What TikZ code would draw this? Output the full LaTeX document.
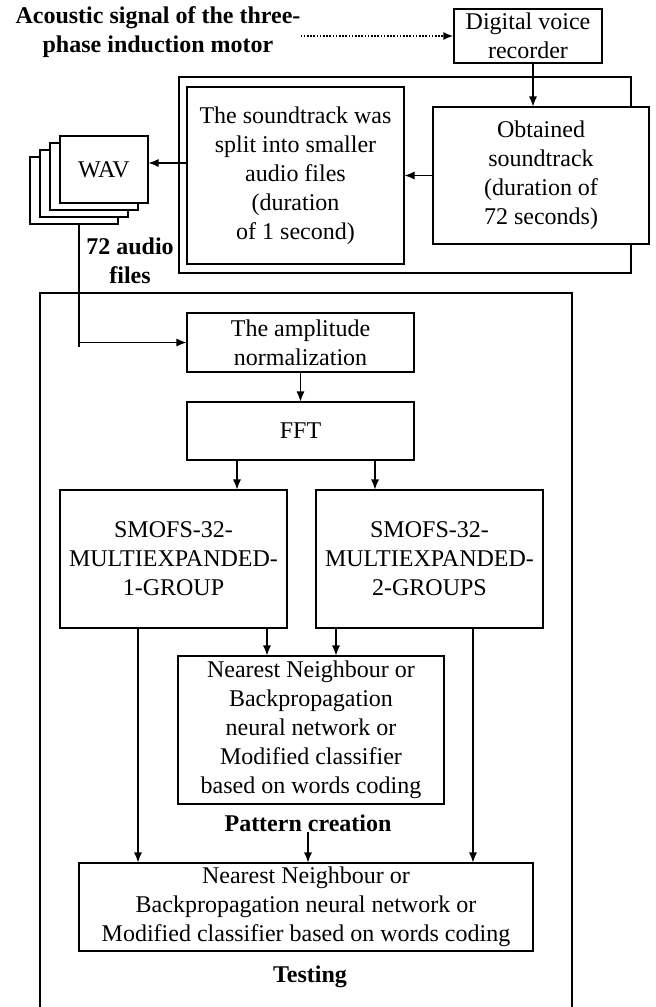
\documentclass[tikz,border=0pt]{standalone}
\usepackage{fontspec}
\setmainfont{Liberation Serif}
\usetikzlibrary{arrows.meta}
\tikzset{
  blk/.style={draw, fill=white, line width=1.1pt, inner sep=0pt, align=center, font=\fontsize{24}{29}\selectfont},
  lbl/.style={inner sep=0pt, align=center, font=\fontsize{24}{29}\selectfont\bfseries},
  wire/.style={line width=1.1pt},
}
\newcommand{\blockbox}[6]{\node[blk, minimum width=#4pt, minimum height=#5pt] (#1) at ( #2 , #3 ) {#6};}

\begin{document}
\begin{tikzpicture}[x=1pt, y=-1pt, >={Latex[length=10pt,width=8pt]}]
\useasboundingbox (0,0) rectangle (656,1007);
% recording
\node[lbl] (src) at (158,32) {Acoustic signal of the three-\\phase induction motor};
\blockbox{dvr}{528}{36}{148}{54}{Digital voice\\recorder}
\draw[line width=2pt, dash pattern=on 1.6pt off 1.6pt, ->] (src.east |- dvr.west) -- (dvr.west);
% splitting frame
\draw[wire] (179,77) rectangle (631,273);
\blockbox{split}{295.5}{175.5}{217}{177}{The soundtrack was\\split into smaller\\audio files\\(duration\\of 1 second)}
\blockbox{obt}{541}{175.5}{216}{137}{Obtained\\soundtrack\\(duration of\\72 seconds)}
% stack of wav files
\foreach \i in {3,2,1}
  \draw[wire, fill=white] ({60-10*\i},{136+7*\i}) rectangle ++(88,67);
\blockbox{wav}{104}{169.5}{88}{67}{WAV}
\node[lbl] (count) at (130,261) {72 audio\\files};
\coordinate (foot) at (79,224);
% processing frame
\draw[wire] (40,1007) |- (572,293) -- (572,1007);
\blockbox{amp}{300.5}{342.5}{227}{59}{The amplitude\\normalization}
\blockbox{fft}{300.5}{431}{227}{58}{FFT}
\blockbox{sa}{173.5}{559}{227}{138}{SMOFS-32-\\MULTIEXPANDED-\\1-GROUP}
\blockbox{sb}{429.5}{559}{227}{138}{SMOFS-32-\\MULTIEXPANDED-\\2-GROUPS}
\blockbox{nn}{311}{730}{266}{148}{Nearest Neighbour or\\Backpropagation\\neural network or\\Modified classifier\\based on words coding}
\node[lbl] (pat) at (308,823) {Pattern creation};
\blockbox{test}{306}{907}{454}{88}{Nearest Neighbour or\\Backpropagation neural network or\\Modified classifier based on words coding}
\node[lbl] (tst) at (310,977) {Testing};
% connectors
\draw[wire, ->] ([xshift=5pt]dvr.south) -- ([xshift=5pt]dvr.south |- obt.north);
\draw[wire, ->] (obt.west) -- (split.east);
\draw[wire, ->] ([yshift=6.5pt]wav.east -| split.west) -- ([yshift=6.5pt]wav.east);
\draw[wire] (foot) -- ++(0,123);
\draw[wire, ->] (foot |- amp.west) -- (amp.west);
\draw[wire, ->] (amp.south) -- (fft.north);
\draw[wire, ->] ([xshift=-63.5pt]fft.south) -- ([xshift=-63.5pt]fft.south |- sa.north);
\draw[wire, ->] ([xshift=74.5pt]fft.south) -- ([xshift=74.5pt]fft.south |- sb.north);
\draw[wire, ->] ([xshift=93.5pt]sa.south) -- ([xshift=93.5pt]sa.south |- nn.north);
\draw[wire, ->] ([xshift=-93.5pt]sb.south) -- ([xshift=-93.5pt]sb.south |- nn.north);
\draw[wire, ->] ([xshift=-35.5pt]sa.south) -- ([xshift=-35.5pt]sa.south |- test.north);
\draw[wire, ->] ([xshift=43.5pt]sb.south) -- ([xshift=43.5pt]sb.south |- test.north);
\draw[wire, ->] (pat.south) -- (pat.south |- test.north);
\end{tikzpicture}
\end{document}
